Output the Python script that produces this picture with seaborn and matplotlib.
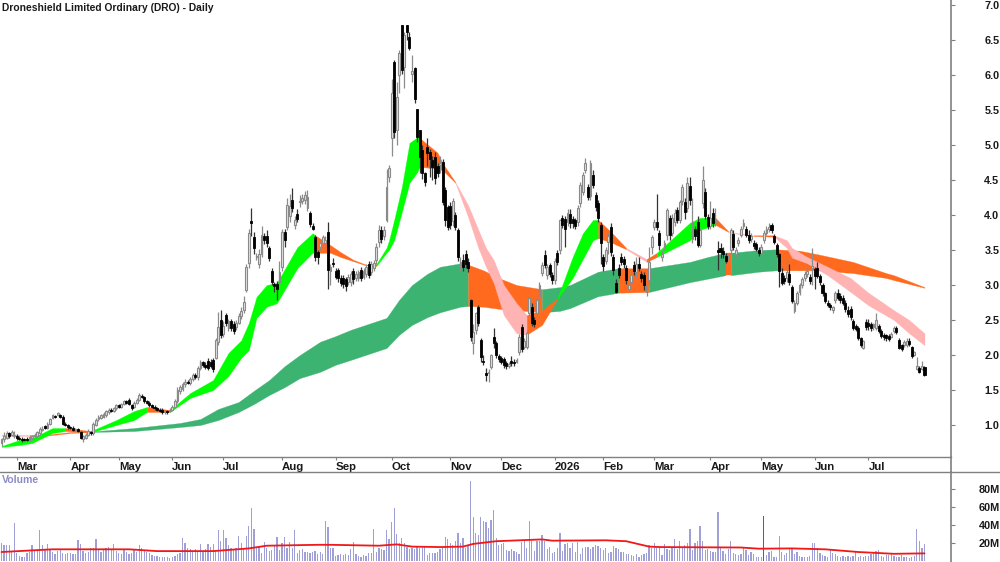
import numpy as np
import pandas as pd
import seaborn as sns
import matplotlib.pyplot as plt
from matplotlib.lines import Line2D

opens = [
    .74,.80,.82,.88,.86,.84,.85,.82,.80,.80,
    .80,.79,.81,.84,.85,.88,.93,.98,.96,1.02,
    1.10,1.13,1.15,1.14,1.12,1.02,1.00,.97,.96,.93,
    .94,.90,.80,.82,.86,.90,.88,1.00,1.08,1.10,
    1.12,1.14,1.18,1.22,1.20,1.24,1.28,1.26,1.30,1.34,
    1.36,1.28,1.26,1.32,1.36,1.42,1.40,1.34,1.32,1.28,
    1.26,1.24,1.22,1.22,1.18,1.20,1.20,1.22,1.26,1.34,
    1.48,1.52,1.58,1.62,1.60,1.66,1.72,1.68,1.82,1.90,
    1.86,1.92,1.90,1.93,1.96,2.19,2.50,2.30,2.57,2.38,
    2.48,2.44,2.40,2.46,2.56,2.65,2.93,3.31,3.92,3.69,
    3.40,3.30,3.44,3.70,3.70,3.53,3.20,3.02,3.02,3.05,
    3.26,3.76,3.83,3.98,4.21,3.86,4.02,4.18,4.20,4.22,
    4.10,4.03,3.85,3.69,3.47,3.55,3.60,3.60,3.76,3.20,
    3.32,3.20,3.22,3.10,3.10,3.08,3.05,3.04,3.20,3.10,
    3.10,3.22,3.12,3.16,3.30,3.18,3.25,3.36,3.61,3.78,
    3.70,3.93,4.54,5.10,6.19,5.21,6.00,6.71,6.11,6.71,
    6.54,6.02,6.10,5.51,5.21,4.93,4.60,4.97,4.90,4.79,
    4.83,4.70,4.71,4.76,4.36,4.11,4.13,3.92,4.00,3.79,
    3.30,3.36,3.44,3.33,2.79,2.17,2.36,2.69,2.21,1.92,
    1.75,1.74,1.83,2.26,2.17,1.98,1.96,1.94,1.88,1.85,
    1.92,1.90,1.90,2.04,2.40,2.12,2.11,2.60,2.69,2.50,
    2.60,2.85,3.17,3.43,3.14,3.28,3.14,3.07,3.46,3.50,
    3.96,3.95,3.90,4.02,3.95,3.93,3.90,4.17,4.33,4.64,
    4.40,4.27,4.57,4.29,4.17,3.86,3.40,3.35,3.62,3.83,
    3.40,3.03,3.25,3.40,3.37,3.24,2.95,3.05,3.28,3.18,
    3.30,3.16,3.14,2.90,3.07,3.54,3.83,3.90,3.74,3.40,
    3.55,3.71,3.96,3.75,3.90,4.07,3.93,4.20,4.18,4.10,
    4.41,3.66,3.80,3.90,3.57,4.17,4.33,3.97,3.84,4.03,
    3.90,3.50,3.53,3.49,3.42,3.40,3.50,3.73,3.44,3.60,
    3.72,3.84,3.80,3.72,3.66,3.60,3.58,3.50,3.46,3.64,
    3.75,3.80,3.86,3.70,3.57,3.44,3.17,3.10,3.10,3.16,
    2.97,2.63,2.75,2.90,3.00,3.10,3.16,3.12,3.24,3.23,
    3.25,3.13,3.00,2.88,2.75,2.72,2.64,2.78,2.88,2.85,
    2.82,2.74,2.65,2.66,2.48,2.42,2.39,2.24,2.10,2.47,
    2.46,2.44,2.40,2.38,2.42,2.34,2.29,2.28,2.27,2.26,
    2.34,2.38,2.22,2.14,2.14,2.15,2.20,2.11,2.00,1.80,1.82,1.80,1.83,
]
closes = [
    .80,.85,.88,.84,.90,.86,.82,.80,.78,.79,
    .79,.83,.84,.86,.90,.95,.94,.96,1.02,1.08,
    1.14,1.12,1.17,1.12,1.02,1.00,.97,.96,.93,.94,
    .92,.82,.84,.86,.92,.88,1.02,1.07,1.12,1.14,
    1.16,1.20,1.22,1.20,1.24,1.28,1.26,1.30,1.34,1.32,
    1.30,1.25,1.32,1.36,1.43,1.40,1.34,1.32,1.28,1.26,
    1.24,1.22,1.20,1.19,1.20,1.18,1.22,1.26,1.34,1.50,
    1.55,1.58,1.62,1.60,1.66,1.72,1.68,1.82,1.90,1.86,
    1.83,1.82,1.84,1.80,2.21,2.40,2.29,2.42,2.46,2.48,
    2.38,2.34,2.46,2.56,2.63,2.76,3.26,3.74,3.88,3.53,
    3.42,3.44,3.71,3.64,3.60,3.39,3.04,2.98,2.95,3.18,
    3.76,3.64,4.14,4.13,4.10,3.93,3.94,4.20,4.24,4.28,
    4.26,3.87,3.80,3.40,3.40,3.60,3.68,3.65,3.21,3.26,
    3.30,3.12,3.10,3.03,3.02,2.98,3.12,3.16,3.08,3.16,
    3.18,3.10,3.20,3.26,3.14,3.30,3.32,3.54,3.79,3.66,
    3.78,4.40,4.67,5.74,5.19,5.69,6.31,6.07,6.57,6.61,
    6.39,6.06,5.66,5.11,4.83,4.60,4.47,4.89,4.80,4.69,
    4.53,4.60,4.74,4.19,3.93,3.83,3.86,4.20,3.83,3.40,
    3.33,3.26,3.30,3.24,2.26,2.33,2.60,2.46,1.97,1.90,
    1.72,1.76,2.00,2.17,2.00,1.94,1.90,1.86,1.84,1.87,
    1.88,1.88,1.93,2.26,2.09,2.20,2.31,2.81,2.46,2.44,
    2.79,3.00,3.29,3.29,3.26,3.16,3.07,3.34,3.33,3.93,
    3.86,3.80,4.03,3.88,3.88,3.84,4.10,4.43,4.57,4.74,
    4.26,4.74,4.43,4.11,3.96,3.60,3.27,3.50,3.70,3.47,
    3.21,2.90,3.15,3.33,3.30,3.07,3.00,3.14,3.20,3.30,
    3.25,3.10,3.00,3.00,3.33,3.69,3.90,3.83,3.57,3.45,
    3.60,4.07,3.71,3.96,4.03,3.93,4.18,4.40,4.04,4.46,
    4.22,3.90,3.70,3.57,3.79,4.50,3.99,3.85,3.96,3.88,
    3.93,3.47,3.47,3.44,3.35,3.42,3.79,3.55,3.50,3.64,
    3.80,3.88,3.72,3.64,3.70,3.56,3.52,3.46,3.55,3.74,
    3.80,3.83,3.78,3.62,3.44,3.20,3.03,3.06,3.18,3.04,
    2.77,2.75,2.88,3.00,3.08,3.16,3.20,3.06,3.27,3.13,
    3.13,3.04,2.89,2.77,2.72,2.68,2.68,2.88,2.82,2.78,
    2.75,2.66,2.58,2.55,2.39,2.37,2.24,2.15,2.20,2.40,
    2.41,2.38,2.44,2.50,2.35,2.27,2.26,2.25,2.23,2.30,
    2.39,2.33,2.10,2.08,2.19,2.20,2.16,1.98,2.04,1.85,1.76,1.85,1.71,
]
highs = [
    .82,.90,.91,.90,.93,.91,.87,.85,.83,.82,
    .83,.85,.86,.89,.92,.97,.98,1.00,1.04,1.10,
    1.16,1.15,1.19,1.16,1.14,1.04,1.02,.99,.98,.96,
    .96,.92,.86,.88,.94,.92,1.04,1.10,1.15,1.16,
    1.18,1.22,1.25,1.24,1.26,1.30,1.30,1.32,1.36,1.36,
    1.38,1.30,1.34,1.38,1.46,1.44,1.42,1.36,1.34,1.30,
    1.28,1.26,1.24,1.24,1.22,1.22,1.24,1.28,1.37,1.55,
    1.57,1.61,1.66,1.65,1.69,1.75,1.75,1.85,1.93,1.92,
    1.90,1.96,1.94,1.96,2.24,2.62,2.65,2.48,2.60,2.52,
    2.52,2.48,2.50,2.60,2.68,2.85,3.30,3.80,4.10,3.76,
    3.46,3.52,3.85,3.75,3.78,3.56,3.25,3.05,3.06,3.35,
    3.80,3.80,4.25,4.30,4.38,3.98,4.08,4.28,4.30,4.34,
    4.36,4.06,3.88,3.72,3.50,3.62,3.72,3.70,3.90,3.30,
    3.38,3.24,3.25,3.14,3.14,3.12,3.16,3.20,3.24,3.20,
    3.22,3.26,3.24,3.30,3.34,3.34,3.36,3.60,3.86,3.84,
    3.84,4.66,4.72,5.95,6.22,5.90,6.35,6.72,6.62,6.72,
    6.61,6.28,6.12,5.52,5.22,5.00,4.62,5.10,4.95,4.85,
    4.90,4.75,4.85,4.80,4.40,4.15,4.18,4.25,4.05,3.82,
    3.40,3.45,3.50,3.38,2.80,2.45,2.62,2.72,2.25,2.00,
    1.82,1.80,2.02,2.39,2.20,2.02,1.99,1.97,1.92,1.90,
    1.98,1.94,1.96,2.30,2.44,2.24,2.36,2.85,2.74,2.54,
    2.84,3.05,3.33,3.50,3.30,3.32,3.18,3.38,3.50,3.95,
    4.00,3.98,4.08,4.08,3.99,3.96,4.14,4.47,4.62,4.82,
    4.45,4.78,4.65,4.33,4.22,3.90,3.45,3.55,3.75,3.88,
    3.44,3.08,3.30,3.46,3.42,3.28,3.05,3.20,3.34,3.40,
    3.40,3.20,3.18,3.05,3.55,3.72,3.95,4.30,3.78,3.50,
    3.65,4.10,4.00,4.02,4.08,4.12,4.22,4.44,4.25,4.55,
    4.55,4.25,3.85,3.98,3.82,4.70,4.38,4.02,4.20,4.10,
    4.10,3.63,3.60,3.55,3.46,3.45,3.82,3.78,3.55,3.68,
    3.84,3.95,3.84,3.78,3.74,3.64,3.62,3.54,3.58,3.78,
    3.84,3.88,3.88,3.73,3.60,3.46,3.24,3.14,3.40,3.30,
    3.00,2.78,2.92,3.03,3.12,3.20,3.28,3.16,3.53,3.26,
    3.33,3.16,3.03,2.90,2.78,2.74,2.70,2.92,2.94,2.88,
    2.86,2.78,2.70,2.70,2.52,2.44,2.42,2.26,2.22,2.52,
    2.52,2.47,2.46,2.60,2.45,2.37,2.32,2.30,2.30,2.33,
    2.41,2.41,2.24,2.16,2.22,2.24,2.24,2.13,2.06,1.97,1.85,1.92,1.84,
]
lows = [
    .70,.76,.80,.82,.84,.82,.79,.78,.76,.77,
    .77,.77,.79,.82,.83,.86,.91,.94,.94,1.00,
    1.08,1.10,1.13,1.10,1.00,.98,.95,.94,.91,.91,
    .90,.80,.76,.80,.84,.86,.86,.98,1.06,1.08,
    1.10,1.12,1.16,1.18,1.18,1.22,1.24,1.24,1.28,1.30,
    1.28,1.22,1.24,1.30,1.34,1.38,1.32,1.30,1.26,1.24,
    1.22,1.20,1.18,1.16,1.16,1.16,1.18,1.20,1.24,1.32,
    1.44,1.48,1.55,1.58,1.57,1.63,1.66,1.65,1.79,1.83,
    1.80,1.78,1.81,1.76,1.94,2.15,2.25,2.26,2.42,2.34,
    2.34,2.30,2.36,2.44,2.52,2.60,2.90,3.25,3.70,3.45,
    3.36,3.25,3.40,3.58,3.55,3.35,3.00,2.90,2.78,3.00,
    3.20,3.55,3.78,3.90,4.05,3.80,3.90,4.12,4.16,4.16,
    4.06,3.83,3.78,3.35,3.30,3.50,3.55,3.52,2.95,3.00,
    3.26,3.08,3.04,2.98,2.96,2.92,3.00,2.98,3.02,3.06,
    3.06,3.06,3.08,3.12,3.10,3.14,3.20,3.30,3.55,3.60,
    3.64,3.90,4.47,4.85,5.10,5.00,5.75,6.02,5.82,6.50,
    6.35,5.90,5.60,5.05,4.60,4.52,4.42,4.70,4.55,4.50,
    4.45,4.55,4.60,4.15,3.85,3.78,3.80,3.85,3.78,3.35,
    3.20,3.20,3.25,3.18,2.20,2.02,2.30,2.42,1.90,1.86,
    1.63,1.62,1.80,2.10,1.96,1.90,1.87,1.82,1.80,1.82,
    1.85,1.85,1.88,2.00,2.05,2.08,2.08,2.56,2.42,2.40,
    2.55,2.80,3.13,3.25,3.08,3.12,3.02,3.02,3.29,3.45,
    3.82,3.55,3.85,3.82,3.82,3.80,3.85,4.12,4.28,4.60,
    4.22,4.22,4.38,4.06,3.90,3.30,3.20,3.30,3.45,3.42,
    3.15,2.88,3.10,3.28,3.25,3.02,2.90,3.00,3.15,3.12,
    3.20,3.05,2.93,2.85,3.00,3.45,3.78,3.78,3.50,3.35,
    3.50,3.65,3.65,3.70,3.85,3.88,3.88,4.15,3.95,4.05,
    4.15,3.60,3.65,3.55,3.55,4.10,3.95,3.80,3.80,3.83,
    3.85,3.21,3.38,3.38,3.31,3.36,3.45,3.50,3.40,3.56,
    3.68,3.80,3.68,3.60,3.62,3.52,3.48,3.42,3.43,3.60,
    3.72,3.76,3.74,3.58,3.40,2.97,3.00,3.02,3.05,3.00,
    2.74,2.60,2.72,2.86,2.96,3.06,3.12,3.02,3.00,2.95,
    3.10,3.00,2.85,2.74,2.68,2.64,2.60,2.75,2.78,2.75,
    2.72,2.62,2.54,2.50,2.36,2.34,2.22,2.12,2.08,2.36,
    2.36,2.34,2.36,2.36,2.32,2.24,2.22,2.20,2.20,2.24,
    2.31,2.30,2.08,2.06,2.12,2.12,2.13,1.96,1.98,1.78,1.75,1.78,1.70,
]
volume_m = [
    20,18,18,18,11,42,8.5,6,5,5,
    9,10,18,12,13,34,18,13,19,13,
    10,8,11,12,9,8,9,9,8,8,
    23,19,11,9,10,14,14,25,12,10,
    12,14,16,13,19,11,9,8,12,10,
    8,9,12,10,18,15,12,10,9,7,
    6,6,5,4,5,4,3,4,6,8,
    9,26,20,14,13,11,13,11,19,10,
    13,19,16,19,12,34,22,35,26,18,
    14,12,14,28,20,13,28,39,59,36,
    14,16,9,21,14,11,12,17,27,12,
    20,27,15,21,14,34,9,12,13,10,
    10,9,10,11,8,10,8,44,38,14,
    14,6,7,8,7,8,7,13,21,8,
    6,5,7,6,9,9,36,10,15,13,
    12,34,24,43,59,30,20,26,20,16,
    13,14,13,17,15,17,17,7,9,9,
    9,10,13,16,27,24,20,18,22,31,
    20,26,15,18,89,49,31,29,49,45,
    43,37,46,57,26,18,19,20,12,11,
    13,11,10,8,21,22,15,44,22,11,
    22,22,29,22,13,16,9,10,15,31,
    11,19,20,15,20,10,21,8,14,16,
    16,13,16,18,17,14,12,15,9,10,
    17,14,13,10,10,8,8,7,6,8,
    5,7,8,9,18,15,20,14,16,7,
    19,13,12,14,24,13,22,14,18,20,
    36,12,20,22,39,22,12,13,11,10,
    10,54,14,11,8,13,22,9,8,7,
    8,16,12,7,10,8,4,4,4,50,
    7,10,11,4,5,28,10,7,9,14,
    14,8,10,6,5,4,4,6,20,20,
    14,9,7,6,5,13,9,8,6,5,
    6,5,6,5,6,11,5,6,5,6,
    6,8,9,11,12,6,5,7,7,8,
    6,4,5,7,5,4,3,4,6,36,22,14,19,
]
highlight_bar = 299

vol_avg_idx = [0,20,50,61,83,97,104,124,129,148,155,161,172,181,185,194,212,216,237,245,254,258,290,297,310,323,336,350,362]
vol_avg = [10,13,13,11,11,14,17,18,18,17,18.5,16,15.5,16,19,22,24,22.6,23,22,16,15.5,15,13.7,14,13,10,8,8.5]

# fast band: colour of each stretch is the state of its left knot
fast_idx = [0,7,12,20,25,35,45,52,57,66,74,83,89,94,97,100,104,108,116,122,123,129,133,138,143,147,151,152,154,157,160,163,164,171,173,178,183,187,190,193,197,202,206,212,218,224,228,232,234,239,245,253,257,270,274,280,285,287,295,303,308,310,316,324,333,340,350,356,362]
fast_upper = [.70,.786,.814,.957,.957,.914,1.071,1.2,1.257,1.214,1.457,1.643,2.03,2.21,2.46,2.83,3.0,3.03,3.54,3.74,3.71,3.57,3.47,3.36,3.29,3.30,3.53,3.64,3.93,4.40,5.03,5.11,5.10,4.89,4.74,4.47,4.14,3.79,3.53,3.36,3.0,2.74,2.57,2.64,2.81,3.40,3.74,3.93,3.93,3.76,3.53,3.37,3.46,3.89,3.96,3.96,3.77,3.75,3.71,3.71,3.64,3.53,3.40,3.26,3.10,2.89,2.64,2.50,2.31]
fast_lower = [.686,.714,.743,.886,.914,.893,1.0,1.071,1.186,1.186,1.386,1.5,1.70,1.96,2.07,2.53,2.69,2.74,3.24,3.46,3.46,3.46,3.40,3.34,3.28,3.27,3.46,3.50,3.64,4.04,4.46,4.61,4.69,4.66,4.64,4.46,3.97,3.53,3.26,3.03,2.57,2.31,2.29,2.43,2.80,3.10,3.37,3.64,3.67,3.61,3.51,3.33,3.40,3.64,3.79,3.86,3.76,3.74,3.70,3.69,3.53,3.39,3.31,3.14,2.90,2.71,2.50,2.31,2.14]
fast_state = list("G"*4 + "O" + "G"*3 + "O" + "G"*11 + "O"*5 + "G"*7 + "O"*3 + "P"*7 + "O"*2 + "G"*4 + "O"*2 + "P" + "O" + "G"*3 + "O" + "P"*2 + "O" + "P"*9)

slow_idx = [0,11,20,27,35,52,70,78,85,93,99,105,111,117,125,131,137,151,156,161,167,172,180,183,189,195,202,212,219,223,234,242,254,270,277,284,286,297,304,313,320,334,347,350,362]
slow_upper = [.864,.857,.871,.90,.907,.957,1.029,1.086,1.229,1.329,1.49,1.643,1.84,2.0,2.19,2.27,2.36,2.53,2.79,3.0,3.16,3.26,3.31,3.29,3.21,3.10,3.0,2.94,2.97,3.0,3.19,3.24,3.24,3.33,3.40,3.46,3.46,3.50,3.51,3.49,3.44,3.33,3.17,3.14,2.97]
slow_lower = [.85,.843,.857,.886,.90,.914,.971,1.0,1.071,1.186,1.30,1.429,1.54,1.67,1.76,1.86,1.93,2.10,2.29,2.43,2.54,2.61,2.69,2.70,2.69,2.66,2.64,2.61,2.63,2.67,2.84,2.89,2.90,3.04,3.09,3.14,3.14,3.19,3.21,3.21,3.21,3.17,3.10,3.07,2.96]
slow_state = list("P" + "O"*3 + "G"*19 + "O"*4 + "G"*4 + "O" + "G"*3 + "O" + "G"*2 + "O"*6)

month_idx = [6,27,46,67,87,110,131,153,176,196,217,236,256,278,298,319,340]
month_labels = ["Mar","Apr","May","Jun","Jul","Aug","Sep","Oct","Nov","Dec","2026","Feb","Mar","Apr","May","Jun","Jul"]
price_ticks = [1.0,1.5,2.0,2.5,3.0,3.5,4.0,4.5,5.0,5.5,6.0,6.5,7.0]
vol_ticks = [20,40,60,80]
vol_tick_labels = ["20M","40M","60M","80M"]

fast_colors = {"G":"#00ff00","O":"#ff6a1f","P":"#ffb3b3"}
slow_colors = {"G":"#3cb371","O":"#ff6a1f","P":"#ffb3b3"}
AXIS_GREY = "#808080"
TEXT = "#1a1a1a"


def draw_band(ax, idx, upper, lower, state, colors):
    # one polygon per run of the same state, so no seams show inside a run
    start = 0
    for k in range(1, len(state) + 1):
        if k == len(state) or state[k] != state[start]:
            c = colors[state[start]]
            ax.fill_between(idx[start:k+1], lower[start:k+1], upper[start:k+1],
                            facecolor=c, edgecolor=c, linewidth=0.2, zorder=2)
            start = k


sns.set_theme(style="white")
plt.rcParams['font.family'] = ['Liberation Sans', 'DejaVu Sans']

df = pd.DataFrame({"open":opens, "high":highs, "low":lows, "close":closes, "vol":volume_m})
df["bar"] = np.arange(len(df))
df["kind"] = ["hi" if b == highlight_bar else "normal" for b in df["bar"]]
up = df[df["close"] >= df["open"]]
down = df[df["close"] < df["open"]]

fig = plt.figure(figsize=(10, 5.62), dpi=100)
ax = fig.add_axes([0, 1 - 457/562, 0.951, 457/562])
ax_vol = fig.add_axes([0, 0, 0.951, 90/562])

draw_band(ax, slow_idx, slow_upper, slow_lower, slow_state, slow_colors)
draw_band(ax, fast_idx, fast_upper, fast_lower, fast_state, fast_colors)

ax.vlines(up["bar"], up["low"], up["high"], color="#8c8c8c", linewidth=0.9, zorder=3)
ax.vlines(down["bar"], down["low"], down["high"], color="#333333", linewidth=0.9, zorder=3)
ax.bar(up["bar"], up["close"] - up["open"], bottom=up["open"], width=0.7,
       facecolor="#e2e2e2", edgecolor="#8a8a8a", linewidth=0.8, zorder=4)
ax.bar(down["bar"], down["close"] - down["open"], bottom=down["open"], width=0.8,
       facecolor="black", edgecolor="black", linewidth=0.6, zorder=4)

x_limits = (-0.6, 372.4)
ax.set_xlim(x_limits)
ax.set_ylim(0.543, 7.0714)
ax.set_xticks(month_idx)
ax.set_xticklabels(month_labels, ha="left", fontsize=8.2, fontweight="bold", color=TEXT)
ax.tick_params(axis="x", length=2, width=0.8, color=AXIS_GREY, pad=1.5, bottom=True)
ax.yaxis.tick_right()
ax.set_yticks(price_ticks)
ax.set_yticklabels([f"{t:.1f}" for t in price_ticks], fontsize=7.8, fontweight="bold", color=TEXT)
ax.tick_params(axis="y", length=3, width=0.8, color=AXIS_GREY, pad=21, right=True)
for s in ["top", "left"]:
    ax.spines[s].set_visible(False)
ax.spines["right"].set_color(AXIS_GREY)
ax.spines["right"].set_linewidth(1.2)
ax.spines["bottom"].set_color(AXIS_GREY)
ax.spines["bottom"].set_linewidth(1.0)

sns.barplot(data=df, x="bar", y="vol", hue="kind", palette={"normal":"#a0a0d8", "hi":"#4d4dff"},
            native_scale=True, dodge=False, width=0.5, legend=False, saturation=1, linewidth=0, ax=ax_vol)
sns.lineplot(x=vol_avg_idx, y=vol_avg, color="#f01818", linewidth=1.3, ax=ax_vol, zorder=5)
ax_vol.set_xlim(x_limits)
ax_vol.set_ylim(-1.1, 98.9)
ax_vol.set_xlabel("")
ax_vol.set_ylabel("")
ax_vol.set_xticks([])
ax_vol.yaxis.tick_right()
ax_vol.set_yticks(vol_ticks)
ax_vol.set_yticklabels(vol_tick_labels, fontsize=7.8, fontweight="bold", color=TEXT)
ax_vol.tick_params(axis="y", length=3, width=0.8, color=AXIS_GREY, pad=17, right=True)
for s in ["top", "left", "bottom"]:
    ax_vol.spines[s].set_visible(False)
ax_vol.spines["right"].set_color(AXIS_GREY)
ax_vol.spines["right"].set_linewidth(1.2)

fig.add_artist(Line2D([0, 1], [1 - 472/562, 1 - 472/562], color=AXIS_GREY, linewidth=1.0))
fig.add_artist(Line2D([0.951, 0.951], [1 - 472/562, 1 - 457/562], color=AXIS_GREY, linewidth=1.2))

fig.text(0.002, 1 - 8/562, "Droneshield Limited Ordinary (DRO) - Daily", fontsize=7.4, fontweight="bold",
         color=TEXT, ha="left", va="center")
fig.text(0.002, 1 - 480/562, "Volume", fontsize=7.6, fontweight="bold", color="#8c8cc8", ha="left", va="center")

fig.savefig("out.png", dpi=100)
